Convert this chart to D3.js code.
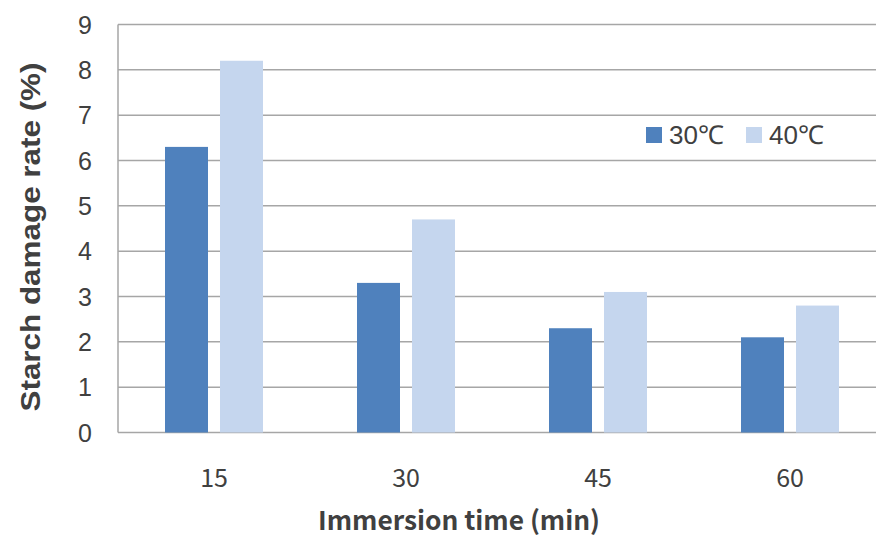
<!DOCTYPE html>
<html>
<head>
<meta charset="utf-8">
<script src="https://cdn.jsdelivr.net/npm/d3@7"></script>
<style>
  html, body { margin: 0; padding: 0; background: #fff; }
  svg { display: block; }
</style>
</head>
<body>
<svg id="chart" width="876" height="545"></svg>
<script>
const categories = ["15", "30", "45", "60"];
const seriesNames = ["30℃", "40℃"];
const values30 = [6.3, 3.3, 2.3, 2.1];
const values40 = [8.2, 4.7, 3.1, 2.8];
const yTicks = [0, 1, 2, 3, 4, 5, 6, 7, 8, 9];
const colors = ["#4f81bd", "#c5d6ee"];

const svg = d3.select("#chart");
const plotLeft = 118, plotTop = 24.5;
const plotRight = 886;
const plotBottom = 432.5;

const x = d3.scaleBand().domain(categories).range([plotLeft, plotRight]).paddingInner(0).paddingOuter(0);
const y = d3.scaleLinear().domain([0, 9]).range([plotBottom, plotTop]);

const data = categories.map((c, i) => ({ cat: c, vals: [values30[i], values40[i]] }));

// gridlines
svg.append("g")
  .selectAll("line")
  .data(yTicks)
  .join("line")
  .attr("x1", plotLeft).attr("x2", plotRight)
  .attr("y1", d => y(d)).attr("y2", d => y(d))
  .attr("stroke", "#a6a6a6").attr("stroke-width", 1.5);

// bars
const barW = 43, gap = 12;
const groups = svg.append("g").selectAll("g")
  .data(data).join("g")
  .attr("transform", d => `translate(${x(d.cat) + x.bandwidth() / 2 - (2 * barW + gap) / 2},0)`);
groups.selectAll("rect")
  .data(d => d.vals.map((v, j) => ({ v, j })))
  .join("rect")
  .attr("x", d => d.j * (barW + gap))
  .attr("width", barW)
  .attr("y", d => y(d.v))
  .attr("height", d => plotBottom - y(d.v))
  .attr("fill", d => colors[d.j]);

// left axis line
svg.append("line")
  .attr("x1", plotLeft).attr("x2", plotLeft)
  .attr("y1", plotTop).attr("y2", plotBottom)
  .attr("stroke", "#a6a6a6").attr("stroke-width", 1.5);

// y tick labels
const yAxis = d3.axisLeft(y).tickValues(yTicks).tickSize(0).tickPadding(0);
const yg = svg.append("g").attr("transform", `translate(${plotLeft - 26},0)`).call(yAxis);
yg.select(".domain").remove();
yg.selectAll("text")
  .attr("font-family", "'Liberation Sans', Arial, sans-serif")
  .attr("font-size", 25)
  .attr("fill", "#404040")
  .attr("dy", "0.35em");

// x tick labels
const xAxis = d3.axisBottom(x).tickSize(0).tickPadding(0);
const xg = svg.append("g").attr("transform", `translate(0,${plotBottom + 46})`).call(xAxis);
xg.select(".domain").remove();
xg.selectAll("text")
  .attr("font-family", "'Noto Sans CJK JP', 'Noto Sans', sans-serif")
  .attr("font-size", 25)
  .attr("fill", "#404040")
  .attr("dy", "0.35em");

// axis titles
svg.append("text")
  .attr("x", 459).attr("y", 523)
  .attr("text-anchor", "middle").attr("dominant-baseline", "middle")
  .attr("font-family", "'Noto Sans CJK JP', 'Noto Sans', sans-serif")
  .attr("font-weight", "bold").attr("font-size", 26)
  .attr("fill", "#404040")
  .attr("textLength", 282).attr("lengthAdjust", "spacingAndGlyphs")
  .text("Immersion time (min)");

svg.append("text")
  .attr("transform", "translate(33,237) rotate(-90)")
  .attr("text-anchor", "middle").attr("dominant-baseline", "middle")
  .attr("font-family", "'Liberation Sans', Arial, sans-serif")
  .attr("font-weight", "bold").attr("font-size", 27)
  .attr("fill", "#404040")
  .attr("textLength", 349).attr("lengthAdjust", "spacingAndGlyphs")
  .text("Starch damage rate (%)");

// legend
const legendX = [646, 746];
const lg = svg.append("g").selectAll("g")
  .data(seriesNames).join("g")
  .attr("transform", (d, i) => `translate(${legendX[i]},127)`);
lg.append("rect").attr("width", 16).attr("height", 16).attr("fill", (d, i) => colors[i]);
lg.append("text")
  .attr("x", 23).attr("y", 8).attr("dy", "0.35em")
  .attr("font-family", "'Liberation Sans', Arial, sans-serif")
  .attr("font-size", 26)
  .attr("fill", "#404040")
  .text(d => d);
</script>
</body>
</html>
